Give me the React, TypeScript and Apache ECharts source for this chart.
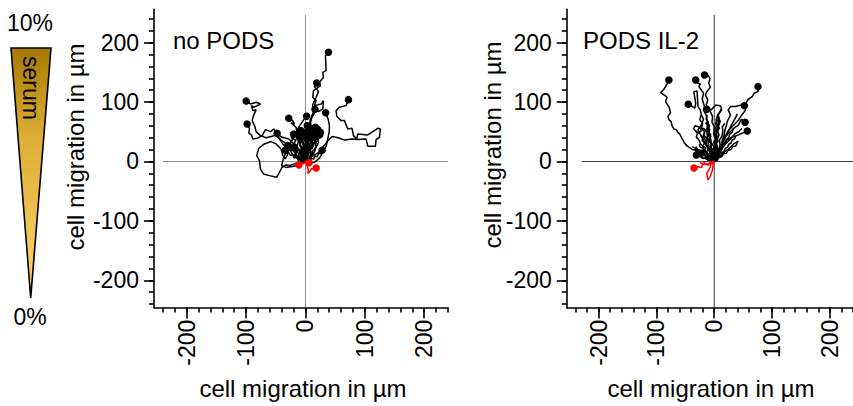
import React, { useEffect, useRef } from "react";
import * as echarts from "echarts";

const FONT = '"Liberation Sans", Arial, Helvetica, sans-serif';

const MAJOR_TICKS = [-200, -100, 0, 100, 200];
const MINOR_TICKS = [-240, -220, -200, -180, -160, -140, -120, -100, -80, -60, -40, -20, 0, 20, 40, 60, 80, 100, 120, 140, 160, 180, 200, 220, 240];

const PANEL_TITLES = ["no PODS", "PODS IL-2"];
const AXIS_TITLE = "cell migration in µm";
const GRADIENT_LABELS = ["10%", "serum", "0%"];

// no PODS – black tracks (µm), each ending in a dot
const noPodsBlack: number[][][] = [
  [[-7.3, -1.4], [-4, 8], [-1.7, 21.1], [2, 30], [1, 42], [6.7, 60.3], [10, 72], [16.8, 85.6], [22, 84], [29.2, 88.4], [30.3, 102.4], [26.4, 96.8], [15.1, 94], [17.9, 102.4], [12.3, 108], [13.5, 119.2], [19.1, 123.2], [25.2, 127.7], [23.6, 133.3], [30.3, 141.7], [29.2, 150.1], [34.8, 152.9], [33.7, 178.1], [38.7, 183.8]],
  [[0, 0], [10, 8], [22, 15], [30, 25], [38, 35], [45, 42], [55, 40], [66, 36], [78, 38], [88.1, 36.8], [102.1, 37.9], [104.9, 25.6], [117.8, 25.6], [118.9, 36.8], [124.5, 40.7], [126.2, 54.7], [121.7, 55.9], [104.9, 44.6], [88.1, 46.3], [86.4, 37.9], [80.8, 43.5], [78.5, 55.9], [71.2, 54.7], [65.6, 68.8], [60, 68.8], [52.7, 76.1], [51.6, 85.6], [57.2, 91.2], [68.4, 94], [72.4, 104.1]],
  [[0, 0], [3, 15], [6, 35], [10, 55], [8, 70], [14, 82], [12, 95], [18, 108], [22, 118], [15, 126], [19, 132]],
  [[0, 0], [-3, 12], [2, 28], [-2, 40], [5, 55], [9, 70], [12, 80], [16, 88]],
  [[0, 0], [6, -3], [15.2, -1.3], [24, 6], [29.1, 15.5], [35, 26], [37.5, 37.9], [40, 50], [40.4, 60.3], [38, 72], [34, 82]],
  [[0, 0], [-8, -4], [-20, -8], [-33, -10], [-40, -7], [-38, 2], [-35, 10], [-27, 27], [-18.5, 43], [-10, 60], [-3, 70], [2, 76]],
  [[0, 0], [-10, -1], [-18.6, -4.1], [-27, -6.9], [-32.6, -5.8], [-39.4, -9.7], [-43.9, -18.2], [-48.3, -26.6], [-60.7, -23.8], [-70.8, -21], [-75.8, -12.5], [-77.5, 1.5], [-82, 9.9], [-78.6, 22.3], [-69.1, 29.5], [-57.9, 33.5], [-49.5, 29.5], [-41.1, 21.1], [-38.2, 9.9], [-33.8, 4.3], [-30, 12], [-35, 25], [-42, 35], [-46, 42], [-47.7, 47.4]],
  [[0, 0], [-8, 10], [-18, 20], [-28, 28], [-40, 35], [-50, 44], [-58, 42], [-66, 40], [-75.7, 43.5], [-83, 50.2], [-85.3, 59.2], [-89.8, 68.8], [-87, 78.3], [-83, 87.3], [-88.6, 85.6], [-90.9, 94], [-87, 91.2], [-75.7, 96.8], [-83, 99.6], [-92.6, 96.8], [-99.8, 101.9]],
  [[0, -1.4], [-2.8, 4.2], [-8.4, 15.5], [-16.8, 26.7], [-28, 37.9], [-39.3, 40.7], [-47.7, 46.3], [-53.3, 54.7], [-58.9, 50.2], [-67.3, 53.6], [-72.9, 43.5], [-81.4, 39], [-88.6, 37.9], [-90.9, 44.6], [-95.4, 48], [-94.2, 55.9], [-98.2, 63.1]],
  [[0, 1.5], [-4.6, 9.9], [-8.5, 26.7], [-13, 43.6], [-15.8, 57.6], [-24.2, 64.9], [-18.6, 63.2], [-21.4, 68.8], [-28.1, 72.7]],
  [[0, 0], [-3, 8], [2, 15], [-1, 22], [5, 30], [3, 38], [8, 45], [6, 50], [9.4, 54.8]],
  [[0, 0], [4, 6], [2, 14], [8, 20], [6, 28], [12, 35], [10, 42], [15, 48], [13, 53], [16.7, 57.6]],
  [[0, 0], [6, 4], [9, 12], [7, 20], [13, 27], [16, 36], [14, 42], [19, 48], [20.7, 53.7]],
  [[0, 0], [-4, 5], [-2, 13], [-6, 20], [-3, 28], [-7, 35], [-2, 42], [1, 47], [3.8, 52]],
  [[0, 0], [-6, 6], [-9, 15], [-5, 22], [-10, 30], [-7, 38], [-4.6, 46.4]],
  [[0, 0], [3, 8], [-2, 18], [4, 26], [1, 33], [7, 39], [6.6, 46.4]],
  [[0, 0], [-5, 4], [-12, 10], [-9, 18], [-15, 25], [-12, 33], [-10.2, 40.8]],
  [[0, 0], [-6, 2], [-10, 8], [-14, 6], [-17, 14], [-21, 18], [-18.6, 24]],
  [[0, 0], [5, 5], [10, 12], [8, 20], [14, 27], [11, 34], [12.2, 40.8]],
  [[0, 0], [-8, 3], [-15, 7], [-22, 12], [-25, 18], [-27, 24]],
  [[0, 0], [2, 6], [-3, 10], [0, 16], [5, 20], [3, 25]],
  [[0, 0], [8, 6], [14, 14], [18, 24], [22, 32], [20, 38], [24, 45]],
  [[0, 0], [-10, 5], [-16, 12], [-12, 20], [-20, 28], [-16, 36], [-24, 40], [-20, 46]],
  [[0, 0], [-2, 5], [1, 9], [-1, 14], [3, 18], [1, 23], [5, 27], [3, 32], [7, 36], [5, 41], [9, 44], [8, 50]],
  [[0, 0], [3, 3], [2, 8], [6, 11], [4, 16], [8, 19], [7, 25], [11, 28], [9, 33], [13, 37], [12, 43], [16, 46], [15, 52], [18, 55]],
  [[0, 0], [-3, 3], [-2, 8], [-6, 10], [-4, 15], [-8, 18], [-6, 23], [-10, 27], [-8, 32], [-12, 35], [-9, 40], [-13, 43], [-11, 48]],
  [[0, 0], [-1, 6], [-5, 8], [-3, 13], [-7, 16], [-4, 21], [-1, 25], [-5, 29], [-2, 34], [2, 37], [-1, 42], [3, 46], [1, 51], [5, 55], [3, 60]],
  [[0, 0], [4, 5], [7, 3], [9, 9], [13, 12], [11, 17], [15, 20], [18, 26], [16, 31], [20, 35], [23, 41], [21, 46], [25, 49]],
  [[0, 0], [-4, 2], [-7, 6], [-11, 5], [-14, 10], [-18, 12], [-16, 17], [-20, 20], [-24, 19], [-22, 25], [-26, 28], [-30, 27]],
  [[0, 0], [1, 4], [-2, 7], [0, 12], [4, 14], [2, 19], [6, 22], [3, 27], [8, 30], [10, 35], [7, 39], [11, 43], [14, 47]],
  [[0, 0], [-3, 6], [0, 10], [-4, 14], [-1, 19], [-5, 23], [-2, 28], [-6, 32], [-3, 38], [-7, 42], [-5, 47], [-8, 52]],
  [[0, 0], [2, -2], [5, 2], [8, 0], [10, 5], [14, 4], [16, 9], [20, 8], [22, 14], [26, 13], [28, 19]],
  [[0, 0], [-2, 3], [2, 6], [0, 11], [4, 13], [3, 18], [-1, 20], [1, 25], [-2, 29], [2, 32], [0, 37], [4, 40]],
  [[0, 0], [-5, -1], [-8, 3], [-12, 2], [-15, 7], [-19, 6], [-21, 11], [-25, 10], [-28, 15], [-32, 14], [-34, 19]],
  [[0, 0], [3, 6], [1, 11], [5, 15], [9, 14], [8, 20], [12, 23], [10, 28], [14, 31], [18, 30], [17, 36], [21, 39], [20, 44]],
];

// no PODS – red tracks (ending below zero)
const noPodsRed: number[][][] = [
  [[0, 0], [-3, -4], [-6, -2], [-9, -7], [-11, -6]],
  [[0, 0], [3, -1], [4, -4], [6, -2]],
  [[0, 0], [2, -6], [5, -14], [4, -20], [8, -16], [10, -12], [14, -13], [18, -11]],
];

// PODS IL-2 – black tracks
const il2Black: number[][][] = [
  [[0, 3.7], [-6, 2], [-11.2, 2.6], [-15, 5], [-20.8, 6.5], [-24, 10], [-28.1, 12.1], [-30, 16], [-33.7, 19.4], [-38, 20], [-43.2, 23.9], [-48, 27], [-52.2, 31.8], [-54, 36], [-56.1, 39.1], [-58, 43], [-60, 46.4], [-63, 49], [-65.6, 53.1], [-70, 55], [-72.9, 59.8], [-74.6, 67.1], [-78, 70], [-80.2, 75.5], [-75.7, 82.3], [-77, 88], [-78.5, 92.4], [-84.2, 100.8], [-81.4, 108.1], [-87, 112], [-92.6, 115.9], [-87, 121.5], [-82.5, 128.8], [-78.5, 137.2]],
  [[-1.1, 3.7], [-4, 8], [-2.8, 13.8], [-6, 24], [-5.6, 36.3], [-9, 46], [-9.5, 58.7], [-12, 68], [-14, 78.3], [-18, 85], [-16.8, 92.4], [-20.8, 104.7], [-18.5, 114.8], [-22.4, 120.4], [-26.4, 126], [-24.1, 130.5], [-28.6, 131.6], [-32, 137.2]],
  [[0, 3.7], [3, 9], [1.7, 13.8], [4, 24], [2.8, 36.3], [-1, 46], [0, 58.7], [-4, 66], [-2.8, 75.5], [-8.4, 86.8], [-14, 95.2], [-11.2, 103.6], [-15.2, 112], [-12.9, 117.6], [-6.7, 124.9], [-9.5, 131.6], [-7.3, 140], [-11.2, 145.7], [-16.8, 145.7]],
  [[-5.6, 5.4], [-8.4, 19.4], [-11.2, 36.3], [-12.9, 50.3], [-18.5, 55.9], [-25.3, 48.6], [-28.1, 53.1], [-22.4, 61.5], [-18.5, 71], [-22.4, 78.3], [-24.1, 86.8], [-28.1, 92.4], [-29.7, 118.7], [-35.4, 117.6], [-32, 98], [-33.7, 89.6], [-39.3, 93.5], [-44.9, 96.3]],
  [[0.6, 3.7], [1.7, 19.4], [2.8, 41.9], [8.4, 64.3], [5.6, 78.3], [12.9, 86.8], [11.2, 93.5], [2.8, 95.2], [-5.6, 86.8], [-12.9, 87.9]],
  [[2.8, 5.4], [6, 12], [8.4, 19.4], [12, 26], [14, 36.3], [17, 44], [18.5, 53.1], [21, 60], [22.4, 67.1], [28.1, 78.3], [24.1, 86.8], [28.1, 92.4], [36.5, 92.4], [47.7, 95.2], [54.4, 98], [58.9, 104.7], [65.6, 109.2], [69, 114.8], [75.7, 117.6], [75.7, 126]],
  [[1.7, 3.7], [5.6, 11], [11.2, 25], [16.8, 39.1], [25.3, 53.1], [33.7, 61.5], [42.1, 69.9], [47.7, 78.3], [54.4, 86.8], [52.2, 94]],
  [[1.7, 3.7], [5.6, 13.8], [12.9, 27.8], [19.6, 41.9], [28.1, 50.3], [33.7, 55.9], [42.1, 61.5], [46.6, 71], [53.3, 66]],
  [[2.8, 8.2], [8.4, 19.4], [14, 27.8], [22.4, 36.3], [30.9, 40.8], [42.1, 44.7], [50.5, 48.6], [57.2, 51.4]],
  [[0, 0], [-5, 3], [-10, 2], [-15, 6], [-20, 5], [-25, 9], [-30.9, 11]],
  [[0, 0], [-4, 5], [-9, 8], [-14, 7], [-18, 12], [-22.4, 13.8]],
];

// PODS IL-2 – black tracks whose end dots are hidden in the cluster
const il2BlackNoDot: number[][][] = [
  [[0, 0], [3, 8], [-2, 15], [4, 24], [-1, 32], [5, 40], [0, 48], [6, 56], [2, 64], [8, 72]],
  [[0, 0], [-3, 10], [-8, 18], [-4, 28], [-10, 36], [-6, 45], [-12, 52], [-8, 60], [-14, 66]],
  [[0, 0], [-6, 12], [-12, 24], [-18, 36], [-24, 46], [-30, 50], [-36, 55], [-33, 60], [-26, 58], [-22, 52]],
  [[0, 0], [8, 10], [14, 22], [20, 30], [28, 38], [35, 46], [42, 50], [48, 56]],
  [[0, 0], [6, 12], [12, 25], [18, 38], [24, 50], [30, 62], [36, 72], [40, 80]],
  [[0, 0], [10, 8], [18, 16], [26, 22], [34, 30], [42, 34]],
  [[0, 0], [2, 12], [6, 22], [3, 32], [8, 44], [5, 55], [10, 66], [7, 78], [12, 88]],
  [[0, 0], [-8, 6], [-14, 14], [-10, 22], [-16, 30], [-12, 38], [-18, 44], [-15, 54]],
  [[0, 0], [4, 4], [-3, 9], [2, 14], [-5, 18], [0, 24], [-4, 30]],
  [[0, 0], [-3, 5], [-1, 10], [-5, 14], [-3, 20], [-7, 24], [-5, 30], [-9, 34], [-7, 40], [-11, 44], [-9, 50], [-13, 55], [-11, 61], [-15, 65]],
  [[0, 0], [2, 5], [0, 10], [4, 14], [2, 20], [6, 24], [3, 30], [7, 34], [4, 40], [8, 45], [5, 51], [9, 56], [6, 62], [10, 68], [7, 74]],
  [[0, 0], [-4, 3], [-6, 8], [-10, 10], [-12, 15], [-16, 17], [-15, 23], [-19, 26], [-17, 32], [-21, 35], [-20, 41], [-24, 44]],
  [[0, 0], [4, 3], [7, 8], [11, 10], [13, 15], [17, 17], [19, 22], [23, 24], [25, 29], [29, 31], [31, 36], [35, 38], [37, 43]],
  [[0, 0], [1, 6], [-2, 11], [1, 16], [-1, 22], [3, 27], [0, 33], [4, 38], [1, 44], [5, 50], [2, 56], [5, 62], [3, 70], [6, 78]],
  [[0, 0], [-2, 4], [-6, 5], [-8, 10], [-12, 11], [-14, 16], [-18, 18], [-20, 23], [-24, 24], [-26, 29]],
  [[0, 0], [3, 4], [2, 10], [7, 13], [9, 19], [13, 22], [15, 28], [19, 31], [21, 37], [25, 40], [27, 46], [31, 49], [33, 55]],
  [[0, 0], [-1, 7], [-4, 12], [-2, 18], [-6, 23], [-4, 30], [-8, 35], [-6, 42], [-10, 47], [-8, 54], [-12, 59], [-10, 66], [-14, 71], [-12, 78]],
  [[0, 0], [-6, 2], [-9, 7], [-14, 8], [-17, 13], [-22, 14], [-25, 19], [-29, 20], [-32, 25]],
  [[0, 0], [5, 2], [8, 7], [13, 8], [16, 13], [21, 14], [24, 19], [29, 20], [32, 25], [37, 26], [40, 31]],
  [[0, 0], [-4, 6], [-9, 9], [-12, 15], [-17, 19], [-20, 26], [-24, 30], [-27, 37], [-31, 41], [-29, 48], [-33, 52]],
  [[0, 0], [-2, 8], [-6, 14], [-9, 22], [-13, 28], [-15, 36], [-19, 42], [-17, 50], [-22, 56], [-20, 64], [-25, 70], [-23, 78]],
  [[0, 0], [4, 7], [3, 14], [8, 20], [10, 28], [9, 36], [13, 42], [15, 50], [14, 58], [18, 64]],
  [[0, 0], [-5, 4], [-11, 5], [-15, 10], [-21, 11], [-25, 16], [-30, 18], [-34, 23], [-38, 25]],
];

// PODS IL-2 – red tracks
const il2Red: number[][][] = [
  [[0, 0], [-5, -2], [-10, -6], [-14, -4], [-20, -5], [-22, -10], [-28, -9], [-35, -11]],
  [[0, 0], [-2, -4], [-5.6, -3], [-7, -10], [-9.5, -14], [-12.9, -20], [-11, -31], [-6.7, -25], [-3, -14], [-1.7, -3]],
  [[0, 0], [-8, -2], [-12, -6], [-17, -2], [-22, -4], [-24, -1]],
];
const il2RedDots = [true, false, false];

export default function App() {
  const ref = useRef<HTMLDivElement>(null);

  useEffect(() => {
    document.body.style.margin = "0";
    const chart = echarts.init(ref.current!, null, { renderer: "svg" });

    const grids = [
      { left: 154, top: 9.4, width: 294, height: 298.2 },
      { left: 566.8, top: 9.4, width: 294, height: 298.2 },
    ];

    const xAxes: any[] = [];
    const yAxes: any[] = [];
    grids.forEach((_, g) => {
      xAxes.push({
        gridIndex: g, type: "value", position: "bottom", min: -255, max: 240,
        axisLine: { show: true, onZero: false, lineStyle: { color: "#000", width: 1.6 } },
        axisTick: { show: true, length: 11, customValues: MAJOR_TICKS, lineStyle: { color: "#000", width: 1.6 } },
        axisLabel: { show: true, customValues: MAJOR_TICKS, rotate: 90, margin: 12, fontSize: 23, color: "#000", fontFamily: FONT },
        splitLine: { show: false },
      });
      xAxes.push({
        gridIndex: g, type: "value", position: "bottom", min: -255, max: 240,
        axisLine: { show: false, onZero: false },
        axisTick: { show: true, length: 5, customValues: MINOR_TICKS, lineStyle: { color: "#000", width: 1.6 } },
        axisLabel: { show: false },
        splitLine: { show: false },
      });
      yAxes.push({
        gridIndex: g, type: "value", position: "left", min: -246, max: 256,
        axisLine: { show: true, onZero: false, lineStyle: { color: "#000", width: 1.6 } },
        axisTick: { show: true, length: 10, customValues: MAJOR_TICKS, lineStyle: { color: "#000", width: 1.6 } },
        axisLabel: { show: true, customValues: MAJOR_TICKS, margin: 15, fontSize: 23, color: "#000", fontFamily: FONT },
        splitLine: { show: false },
      });
      yAxes.push({
        gridIndex: g, type: "value", position: "left", min: -246, max: 256,
        axisLine: { show: false, onZero: false },
        axisTick: { show: true, length: 5, customValues: MINOR_TICKS, lineStyle: { color: "#000", width: 1.6 } },
        axisLabel: { show: false },
        splitLine: { show: false },
      });
    });

    const series: any[] = [];
    const addZeroLines = (g: number, color: string, hStart: number) => {
      const common = {
        type: "line", xAxisIndex: g * 2, yAxisIndex: g * 2, showSymbol: false, silent: true, z: 1,
        lineStyle: { color, width: 1 },
      };
      series.push({ ...common, data: [[hStart, 0], [240, 0]] });
      series.push({ ...common, data: [[0, -246], [0, 246.5]] });
    };
    addZeroLines(0, "#8a8a8a", -240);
    addZeroLines(1, "#3a3a3a", -229);

    const addTracks = (g: number, tracks: number[][][], color: string, dots: boolean[] | boolean) => {
      tracks.forEach((tr, i) => {
        series.push({
          type: "line", xAxisIndex: g * 2, yAxisIndex: g * 2, data: tr, showSymbol: false,
          silent: true, z: 2, lineStyle: { color, width: 1.5, opacity: 1 },
        });
        const hasDot = Array.isArray(dots) ? dots[i] : dots;
        if (hasDot) {
          series.push({
            type: "scatter", xAxisIndex: g * 2, yAxisIndex: g * 2, data: [tr[tr.length - 1]],
            symbolSize: 7.5, itemStyle: { color, opacity: 1 }, silent: true, z: 3,
          });
        }
      });
    };
    addTracks(0, noPodsBlack, "#000", true);
    addTracks(0, noPodsRed, "#ff0000", true);
    addTracks(1, il2BlackNoDot, "#000", false);
    addTracks(1, il2Black, "#000", true);
    addTracks(1, il2Red, "#ff0000", il2RedDots);

    const textStyle = (text: string, size: number) => ({ text, fill: "#000", font: `${size}px ${FONT}`, align: "center", verticalAlign: "middle" });

    chart.setOption({
      animation: false,
      grid: grids,
      xAxis: xAxes,
      yAxis: yAxes,
      series,
      graphic: [
        {
          type: "polygon", shape: { points: [[11, 48], [51, 48], [30.7, 298]] },
          style: {
            fill: new echarts.graphic.LinearGradient(0, 0, 0, 1, [
              { offset: 0, color: "#a67a02" },
              { offset: 0.35, color: "#dcae35" },
              { offset: 1, color: "#ffd46c" },
            ]),
            stroke: "#000", lineWidth: 1.6,
          },
        },
        { type: "text", x: 30, y: 23, style: textStyle(GRADIENT_LABELS[0], 23) },
        { type: "text", x: 31, y: 88, rotation: -Math.PI / 2, style: textStyle(GRADIENT_LABELS[1], 23) },
        { type: "text", x: 30, y: 317, style: textStyle(GRADIENT_LABELS[2], 23) },
        { type: "text", x: 173, y: 40, style: { ...textStyle(PANEL_TITLES[0], 24), align: "left" } },
        { type: "text", x: 583, y: 40, style: { ...textStyle(PANEL_TITLES[1], 24), align: "left" } },
        { type: "text", x: 303, y: 388, style: textStyle(AXIS_TITLE, 24) },
        { type: "text", x: 711, y: 388, style: textStyle(AXIS_TITLE, 24) },
        { type: "text", x: 75, y: 147, rotation: Math.PI / 2, style: textStyle(AXIS_TITLE, 24) },
        { type: "text", x: 492, y: 145, rotation: Math.PI / 2, style: textStyle(AXIS_TITLE, 24) },
      ],
    });

    return () => chart.dispose();
  }, []);

  return <div ref={ref} style={{ width: 853, height: 406 }} />;
}
